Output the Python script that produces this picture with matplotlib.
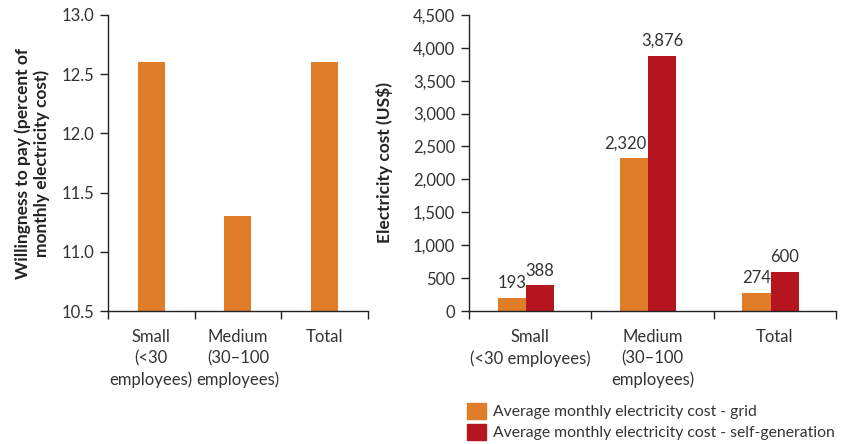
import numpy as np
import matplotlib
matplotlib.use('Agg')
import matplotlib.pyplot as plt
from matplotlib.ticker import FuncFormatter, FixedLocator
from matplotlib.patches import Patch

plt.rcParams['font.family'] = ['Lato', 'DejaVu Sans']
plt.rcParams['font.size'] = 12

ORANGE = '#E07D29'
RED = '#B5151F'
TXT = '#333333'

# left panel
wtp_cats = ['Small\n(<30\nemployees)', 'Medium\n(30\u2013100\nemployees)', 'Total']
wtp_values = [12.6, 11.3, 12.6]

# right panel
cost_cats = ['Small\n(<30 employees)', 'Medium\n(30\u2013100\nemployees)', 'Total']
cost_grid = [193, 2320, 274]
cost_self = [388, 3876, 600]
legend_labels = ['Average monthly electricity cost - grid',
                 'Average monthly electricity cost - self-generation']

fig = plt.figure(figsize=(8.42, 4.44), dpi=100)
ax1 = fig.add_axes([0.128, 0.2995, 0.309, 0.667])
ax2 = fig.add_axes([0.557, 0.2995, 0.436, 0.667])


def style_axis(ax, cats):
    for s in ['top', 'right']:
        ax.spines[s].set_visible(False)
    for s in ['left', 'bottom']:
        ax.spines[s].set_linewidth(1.0)
        ax.spines[s].set_color('#222222')
    n = len(cats)
    ax.set_xlim(-0.5, n - 0.5)
    ax.xaxis.set_major_locator(FixedLocator(np.arange(n + 1) - 0.5))
    ax.xaxis.set_minor_locator(FixedLocator(np.arange(n)))
    ax.set_xticklabels([], minor=False)
    ax.set_xticklabels(cats, minor=True, color=TXT, fontsize=12, linespacing=1.4)
    ax.tick_params(axis='x', which='major', direction='out', length=6, width=1, color='#222222')
    ax.tick_params(axis='x', which='minor', length=0, pad=13)
    ax.tick_params(axis='y', direction='out', length=6, width=1, color='#222222',
                   labelcolor=TXT, labelsize=12, pad=4)


# left chart
x = np.arange(len(wtp_values))
ax1.bar(x, wtp_values, width=0.31, color=ORANGE, bottom=0)
ax1.set_ylim(10.5, 13.0)
ax1.set_yticks(np.arange(10.5, 13.01, 0.5))
ax1.yaxis.set_major_formatter(FuncFormatter(lambda v, p: f'{v:.1f}'))
style_axis(ax1, wtp_cats)
ax1.set_ylabel('Willingness to pay (percent of\nmonthly electricity cost)',
               fontweight='bold', fontsize=12.5, color='#222222', labelpad=8, linespacing=1.15)

# right chart
x = np.arange(len(cost_grid)) - 0.035
w = 0.23
b1 = ax2.bar(x - w / 2, cost_grid, width=w, color=ORANGE, label=legend_labels[0])
b2 = ax2.bar(x + w / 2, cost_self, width=w, color=RED, label=legend_labels[1])
ax2.set_ylim(0, 4500)
ax2.set_yticks(np.arange(0, 4501, 500))
ax2.yaxis.set_major_formatter(FuncFormatter(lambda v, p: f'{int(v):,}'))
style_axis(ax2, cost_cats)
ax2.set_ylabel('Electricity cost (US$)', fontweight='bold', fontsize=12.5,
               color='#222222', labelpad=14)

for i, (bar, v) in enumerate(zip(b1, cost_grid)):
    dx = -0.07 if i == 1 else 0
    ax2.annotate(f'{v:,}', (bar.get_x() + bar.get_width() / 2 + dx, v),
                 xytext=(0, 5), textcoords='offset points', ha='center', va='bottom',
                 fontsize=12, color=TXT)
for bar, v in zip(b2, cost_self):
    ax2.annotate(f'{v:,}', (bar.get_x() + bar.get_width() / 2, v),
                 xytext=(0, 5), textcoords='offset points', ha='center', va='bottom',
                 fontsize=12, color=TXT)

handles = [Patch(color=ORANGE), Patch(color=RED)]
fig.legend(handles, legend_labels, loc='lower left', bbox_to_anchor=(467 / 842, 0.008),
           frameon=False, fontsize=11.3, handlelength=1.2, handleheight=1.2,
           handletextpad=0.45, labelspacing=0.3, labelcolor=TXT,
           borderpad=0, borderaxespad=0)

fig.savefig('out.png', dpi=100, facecolor='white')
